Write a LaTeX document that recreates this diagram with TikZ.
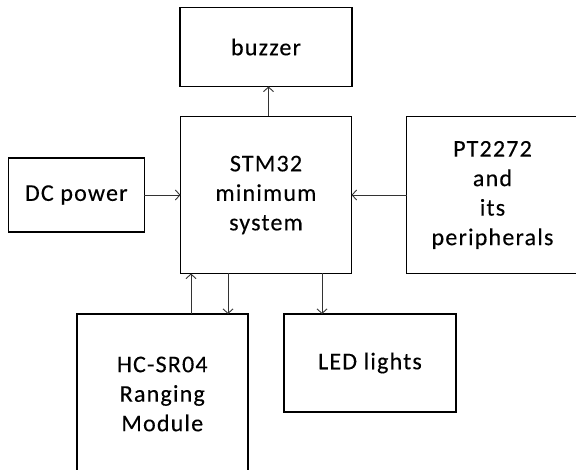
\documentclass[tikz,border=0pt]{standalone}
\usepackage{fontspec}
\setmainfont[LetterSpace=5,FakeBold=0.25]{Carlito}
\usetikzlibrary{arrows.meta}
\begin{document}
\begin{tikzpicture}[x=1pt,y=-1pt,
  blk/.style={draw=black,line width=1.6pt,inner sep=0pt,outer sep=0pt,align=center,
    font=\fontsize{24}{29.5}\selectfont},
  arr/.style={draw=black!80,line width=0.9pt,-{Straight Barb[length=4.5pt,width=10pt,line width=0.9pt]}}]
\useasboundingbox (0,0) rectangle (576,470);
\node[blk,minimum width=172pt,minimum height=79pt] (buzzer) at (266,47) {buzzer};
\node[blk,minimum width=171pt,minimum height=157pt] (stm) at (266,195) {STM32\\minimum\\system};
\node[blk,minimum width=136pt,minimum height=74.5pt] (dc) at (76.3,195) {DC power};
\node[blk,minimum width=172pt,minimum height=157pt] (pt) at (492.5,195) {PT2272\\and\\its\\peripherals};
\node[blk,minimum width=171pt,minimum height=160pt] (hc) at (162.3,394) {HC-SR04\\Ranging\\Module};
\node[blk,minimum width=172pt,minimum height=98pt] (led) at (370,363) {LED lights};
\coordinate (xb) at (268.5,0);
\coordinate (xh1) at (191,0);
\coordinate (xh2) at (228,0);
\coordinate (xl) at (322,0);
\draw[arr] (stm.north -| xb) -- (buzzer.south -| xb);
\draw[arr] (dc.east) -- (dc.east -| stm.west);
\draw[arr] (pt.west) -- (pt.west -| stm.east);
\draw[arr] (hc.north -| xh1) -- (stm.south -| xh1);
\draw[arr] (stm.south -| xh2) -- (hc.north -| xh2);
\draw[arr] (stm.south -| xl) -- (led.north -| xl);
\end{tikzpicture}
\end{document}
